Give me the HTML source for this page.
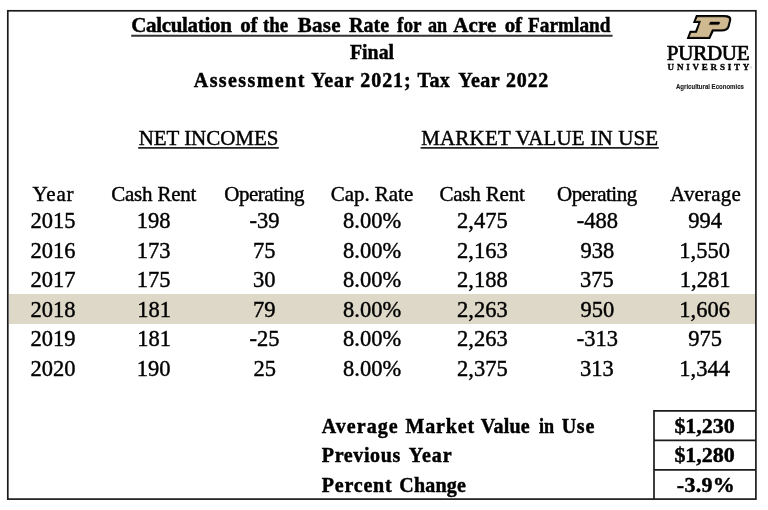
<!DOCTYPE html>
<html><head><meta charset="utf-8"><title>Base Rate</title>
<style>
html,body{margin:0;padding:0;background:#fff;}
body{width:768px;height:510px;position:relative;overflow:hidden;font-family:"Liberation Serif",serif;color:#000;}
#page{position:absolute;left:0;top:0;width:768px;height:510px;will-change:transform;}
.t{position:absolute;line-height:1;white-space:nowrap;-webkit-text-stroke:0.42px #000;}
#hl{position:absolute;left:9px;top:294px;width:746px;height:30px;background:#ddd8c7;}
</style></head><body><div id="page">
<div id="hl"></div>
<svg style="position:absolute;left:0;top:0" width="768" height="510" viewBox="0 0 768 510" fill="none" stroke="#1c1c1c">
<rect x="7.8" y="10.8" width="748.1" height="488.3" stroke-width="1.7"/>
<path d="M654 410.1 V499 M653.2 410.95 H756 M653.2 440.45 H756 M653.2 469.85 H756" stroke-width="1.7"/>
<path d="M131.2 35.8 H612.6" stroke="#333" stroke-width="1.9"/>
<path d="M138.2 147.8 H278.8 M420.6 147.8 H658.8" stroke="#222" stroke-width="1.7"/>
</svg>
<div class="t" style="left:131.2px;top:14px;font-size:21px;line-height:22px;font-weight:bold;-webkit-text-stroke-width:0.45px;letter-spacing:-0.32px;">Calculation</div>
<div class="t" style="left:240.3px;top:14px;font-size:21px;line-height:22px;font-weight:bold;-webkit-text-stroke-width:0.45px;letter-spacing:-0.2px;">of</div>
<div class="t" style="left:262.8px;top:14px;font-size:21px;line-height:22px;font-weight:bold;-webkit-text-stroke-width:0.45px;transform-origin:0 0;transform:scaleX(0.903);">the</div>
<div class="t" style="left:297.8px;top:14px;font-size:21px;line-height:22px;font-weight:bold;-webkit-text-stroke-width:0.45px;letter-spacing:0.27px;">Base</div>
<div class="t" style="left:348.6px;top:14px;font-size:21px;line-height:22px;font-weight:bold;-webkit-text-stroke-width:0.45px;transform-origin:0 0;transform:scaleX(0.955);">Rate</div>
<div class="t" style="left:397.0px;top:14px;font-size:21px;line-height:22px;font-weight:bold;-webkit-text-stroke-width:0.45px;transform-origin:0 0;transform:scaleX(0.913);">for</div>
<div class="t" style="left:428.3px;top:14px;font-size:21px;line-height:22px;font-weight:bold;-webkit-text-stroke-width:0.45px;transform-origin:0 0;transform:scaleX(0.867);">an</div>
<div class="t" style="left:453.3px;top:14px;font-size:21px;line-height:22px;font-weight:bold;-webkit-text-stroke-width:0.45px;letter-spacing:0.12px;">Acre</div>
<div class="t" style="left:504.8px;top:14px;font-size:21px;line-height:22px;font-weight:bold;-webkit-text-stroke-width:0.45px;letter-spacing:-0.2px;">of</div>
<div class="t" style="left:527.9px;top:14px;font-size:21px;line-height:22px;font-weight:bold;-webkit-text-stroke-width:0.45px;transform-origin:0 0;transform:scaleX(0.918);">Farmland</div>
<div class="t" style="left:350.0px;top:41px;font-size:21px;line-height:22px;font-weight:bold;-webkit-text-stroke-width:0.45px;transform-origin:0 0;transform:scaleX(0.944);">Final</div>
<div class="t" style="left:193.8px;top:70px;font-size:20px;line-height:21px;font-weight:bold;-webkit-text-stroke-width:0.45px;letter-spacing:1.42px;">Assessment</div>
<div class="t" style="left:311.3px;top:70px;font-size:20px;line-height:21px;font-weight:bold;-webkit-text-stroke-width:0.45px;letter-spacing:0.77px;">Year</div>
<div class="t" style="left:360.3px;top:70px;font-size:20px;line-height:21px;font-weight:bold;-webkit-text-stroke-width:0.45px;letter-spacing:0.92px;">2021;</div>
<div class="t" style="left:417.5px;top:70px;font-size:20px;line-height:21px;font-weight:bold;-webkit-text-stroke-width:0.45px;letter-spacing:0.4px;">Tax</div>
<div class="t" style="left:458.2px;top:70px;font-size:20px;line-height:21px;font-weight:bold;-webkit-text-stroke-width:0.45px;letter-spacing:0.5px;">Year</div>
<div class="t" style="left:506.0px;top:70px;font-size:20px;line-height:21px;font-weight:bold;-webkit-text-stroke-width:0.45px;letter-spacing:0.73px;">2022</div>
<div class="t" style="left:138.7px;top:127px;font-size:21px;line-height:22px;letter-spacing:-0.05px;">NET INCOMES</div>
<div class="t" style="left:421.2px;top:127px;font-size:21px;line-height:22px;letter-spacing:0.17px;">MARKET VALUE IN USE</div>
<div class="t" style="left:32.4px;top:183px;font-size:21px;line-height:22px;letter-spacing:0.83px;">Year</div>
<div class="t" style="left:111.2px;top:183px;font-size:21px;line-height:22px;letter-spacing:-0.21px;">Cash Rent</div>
<div class="t" style="left:224.2px;top:183px;font-size:21px;line-height:22px;letter-spacing:-0.45px;">Operating</div>
<div class="t" style="left:330.8px;top:183px;font-size:21px;line-height:22px;letter-spacing:-0.05px;">Cap. Rate</div>
<div class="t" style="left:439.4px;top:183px;font-size:21px;line-height:22px;letter-spacing:-0.18px;">Cash Rent</div>
<div class="t" style="left:557.1px;top:183px;font-size:21px;line-height:22px;letter-spacing:-0.48px;">Operating</div>
<div class="t" style="left:670.1px;top:183px;font-size:21px;line-height:22px;letter-spacing:0.18px;">Average</div>
<div class="t" style="left:30.6px;top:209px;font-size:22.5px;line-height:23px;">2015</div>
<div class="t" style="left:136.8px;top:209px;font-size:22.5px;line-height:23px;">198</div>
<div class="t" style="left:249.6px;top:209px;font-size:22.5px;line-height:23px;">-39</div>
<div class="t" style="left:343.1px;top:209px;font-size:22.5px;line-height:23px;">8.00%</div>
<div class="t" style="left:457.0px;top:209px;font-size:22.5px;line-height:23px;">2,475</div>
<div class="t" style="left:576.8px;top:209px;font-size:22.5px;line-height:23px;">-488</div>
<div class="t" style="left:688.2px;top:209px;font-size:22.5px;line-height:23px;">994</div>
<div class="t" style="left:30.6px;top:239px;font-size:22.5px;line-height:23px;">2016</div>
<div class="t" style="left:136.8px;top:239px;font-size:22.5px;line-height:23px;">173</div>
<div class="t" style="left:252.9px;top:239px;font-size:22.5px;line-height:23px;">75</div>
<div class="t" style="left:343.1px;top:239px;font-size:22.5px;line-height:23px;">8.00%</div>
<div class="t" style="left:457.0px;top:239px;font-size:22.5px;line-height:23px;">2,163</div>
<div class="t" style="left:580.5px;top:239px;font-size:22.5px;line-height:23px;">938</div>
<div class="t" style="left:679.3px;top:239px;font-size:22.5px;line-height:23px;">1,550</div>
<div class="t" style="left:30.6px;top:268px;font-size:22.5px;line-height:23px;">2017</div>
<div class="t" style="left:136.8px;top:268px;font-size:22.5px;line-height:23px;">175</div>
<div class="t" style="left:252.9px;top:268px;font-size:22.5px;line-height:23px;">30</div>
<div class="t" style="left:343.1px;top:268px;font-size:22.5px;line-height:23px;">8.00%</div>
<div class="t" style="left:457.0px;top:268px;font-size:22.5px;line-height:23px;">2,188</div>
<div class="t" style="left:580.0px;top:268px;font-size:22.5px;line-height:23px;">375</div>
<div class="t" style="left:679.8px;top:268px;font-size:22.5px;line-height:23px;">1,281</div>
<div class="t" style="left:30.6px;top:298px;font-size:22.5px;line-height:23px;">2018</div>
<div class="t" style="left:137.2px;top:298px;font-size:22.5px;line-height:23px;">181</div>
<div class="t" style="left:252.9px;top:298px;font-size:22.5px;line-height:23px;">79</div>
<div class="t" style="left:343.1px;top:298px;font-size:22.5px;line-height:23px;">8.00%</div>
<div class="t" style="left:457.0px;top:298px;font-size:22.5px;line-height:23px;">2,263</div>
<div class="t" style="left:580.5px;top:298px;font-size:22.5px;line-height:23px;">950</div>
<div class="t" style="left:679.3px;top:298px;font-size:22.5px;line-height:23px;">1,606</div>
<div class="t" style="left:30.6px;top:327px;font-size:22.5px;line-height:23px;">2019</div>
<div class="t" style="left:137.2px;top:327px;font-size:22.5px;line-height:23px;">181</div>
<div class="t" style="left:249.6px;top:327px;font-size:22.5px;line-height:23px;">-25</div>
<div class="t" style="left:343.1px;top:327px;font-size:22.5px;line-height:23px;">8.00%</div>
<div class="t" style="left:457.0px;top:327px;font-size:22.5px;line-height:23px;">2,263</div>
<div class="t" style="left:576.8px;top:327px;font-size:22.5px;line-height:23px;">-313</div>
<div class="t" style="left:688.2px;top:327px;font-size:22.5px;line-height:23px;">975</div>
<div class="t" style="left:30.6px;top:357px;font-size:22.5px;line-height:23px;">2020</div>
<div class="t" style="left:136.8px;top:357px;font-size:22.5px;line-height:23px;">190</div>
<div class="t" style="left:253.4px;top:357px;font-size:22.5px;line-height:23px;">25</div>
<div class="t" style="left:343.1px;top:357px;font-size:22.5px;line-height:23px;">8.00%</div>
<div class="t" style="left:457.0px;top:357px;font-size:22.5px;line-height:23px;">2,375</div>
<div class="t" style="left:580.0px;top:357px;font-size:22.5px;line-height:23px;">313</div>
<div class="t" style="left:679.3px;top:357px;font-size:22.5px;line-height:23px;">1,344</div>
<div class="t" style="left:321.8px;top:416px;font-size:20px;line-height:21px;font-weight:bold;-webkit-text-stroke-width:0.45px;letter-spacing:1.03px;">Average</div>
<div class="t" style="left:405.6px;top:416px;font-size:20px;line-height:21px;font-weight:bold;-webkit-text-stroke-width:0.45px;letter-spacing:0.81px;">Market</div>
<div class="t" style="left:480.8px;top:416px;font-size:20px;line-height:21px;font-weight:bold;-webkit-text-stroke-width:0.45px;letter-spacing:0.18px;">Value</div>
<div class="t" style="left:538.8px;top:416px;font-size:20px;line-height:21px;font-weight:bold;-webkit-text-stroke-width:0.45px;transform-origin:0 0;transform:scaleX(0.906);">in</div>
<div class="t" style="left:561.7px;top:416px;font-size:20px;line-height:21px;font-weight:bold;-webkit-text-stroke-width:0.45px;letter-spacing:0.74px;">Use</div>
<div class="t" style="left:321.8px;top:445px;font-size:20px;line-height:21px;font-weight:bold;-webkit-text-stroke-width:0.45px;letter-spacing:0.62px;">Previous</div>
<div class="t" style="left:408.7px;top:445px;font-size:20px;line-height:21px;font-weight:bold;-webkit-text-stroke-width:0.45px;letter-spacing:1.0px;">Year</div>
<div class="t" style="left:321.8px;top:475px;font-size:20px;line-height:21px;font-weight:bold;-webkit-text-stroke-width:0.45px;letter-spacing:0.79px;">Percent</div>
<div class="t" style="left:399.3px;top:475px;font-size:20px;line-height:21px;font-weight:bold;-webkit-text-stroke-width:0.45px;letter-spacing:0.2px;">Change</div>
<div class="t" style="left:674.4px;top:414px;font-size:22px;line-height:23px;font-weight:bold;-webkit-text-stroke-width:0.45px;letter-spacing:-0.02px;">$1,230</div>
<div class="t" style="left:674.4px;top:443px;font-size:22px;line-height:23px;font-weight:bold;-webkit-text-stroke-width:0.45px;letter-spacing:-0.02px;">$1,280</div>
<div class="t" style="left:676.8px;top:473px;font-size:22px;line-height:23px;font-weight:bold;-webkit-text-stroke-width:0.45px;letter-spacing:0.29px;">-3.9%</div>
<svg style="position:absolute;left:680px;top:10px" width="60" height="35" viewBox="0 0 768 448">
<path d="M205 65 L560 65 Q670 65 655 130 L635 210 Q618 275 530 275 L430 275 L385 370 L85 370 L125 265 L195 265 L235 165 L165 165 Z" fill="#000"/>
<path d="M222 87 L555 87 Q645 87 632 135 L614 205 Q600 253 530 253 L412 253 L370 350 L114 350 L140 287 L212 287 L262 143 L194 143 Z" fill="#cfb991" stroke="#000" stroke-width="9" stroke-linejoin="round"/>
<path d="M388 153 L500 153 Q512 153 508 165 Q503 187 488 187 L374 187 Z" fill="#000" stroke="#000" stroke-width="5" stroke-linejoin="round"/>
</svg>
<div class="t" style="left:666.8px;top:42px;font-size:21px;line-height:22px;letter-spacing:-0.25px;-webkit-text-stroke-width:0.7px;">PURDUE</div>
<div class="t" style="left:667.6px;top:62px;font-size:9px;line-height:10px;font-weight:bold;letter-spacing:2.8px;-webkit-text-stroke-width:0.35px;">UNIVERSITY</div>
<div class="t" style="left:749.3px;top:66px;font-size:4px;line-height:4px;color:#999;-webkit-text-stroke-width:0;font-family:'Liberation Sans',sans-serif;">&#174;</div>
<div class="t" style="left:676.2px;top:83.05px;font-size:7.5px;font-weight:bold;font-family:'Liberation Sans',sans-serif;color:#1a1a1a;transform-origin:0 0;transform:scaleX(0.806);-webkit-text-stroke:0.15px #1a1a1a;">Agricultural Economics</div>
</div></body></html>
